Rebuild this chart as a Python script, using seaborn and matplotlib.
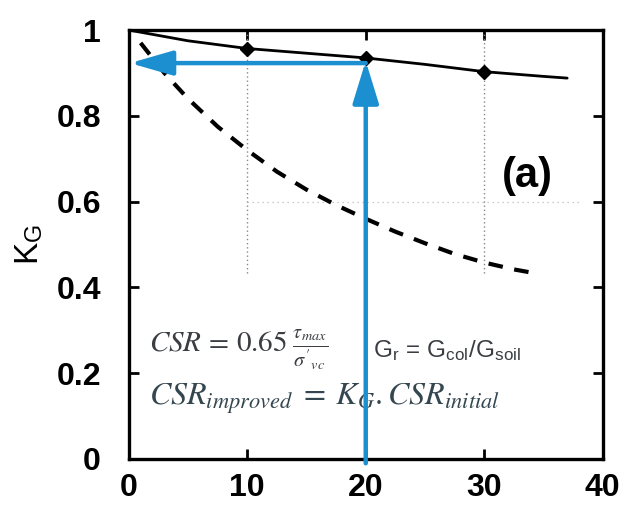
import pandas as pd
import matplotlib.pyplot as plt
import seaborn as sns

# solid curve (upper) with diamond markers
gr_solid = [0, 5, 10, 15, 20, 25, 30, 35, 37]
kg_solid = [1.0, 0.975, 0.957, 0.946, 0.935, 0.92, 0.903, 0.892, 0.888]
gr_marks = [10, 20, 30]
kg_marks = [0.957, 0.935, 0.903]

# dashed curve (lower)
gr_dash = [1, 3, 5, 7.5, 10, 12.5, 15, 17.5, 20, 22.5, 25, 27.5, 30, 32.5, 34.5]
kg_dash = [0.97, 0.9, 0.84, 0.775, 0.72, 0.67, 0.628, 0.592, 0.56, 0.53,
           0.503, 0.478, 0.458, 0.442, 0.432]

# reading arrows
gr_read = 20
kg_read = 0.923

x_ticks = [0, 10, 20, 30, 40]
y_ticks = [0, 0.2, 0.4, 0.6, 0.8, 1]
y_tick_labels = ["0", "0.2", "0.4", "0.6", "0.8", "1"]

sns.set_style("ticks")
plt.rcParams["font.family"] = ["Liberation Sans", "DejaVu Sans"]
plt.rcParams["mathtext.fontset"] = "stix"

fig = plt.figure(figsize=(6.22, 5.07), dpi=100)
ax = fig.add_axes([0.207, 0.0947, 0.762, 0.846])

solid_df = pd.DataFrame({"Gr": gr_solid, "KG": kg_solid})
dash_df = pd.DataFrame({"Gr": gr_dash, "KG": kg_dash})

# dotted guide lines
for xv in [10, 30]:
    ax.plot([xv, xv], [1.0, 0.43], color="#888888", lw=1.0, ls=(0, (1, 2)), zorder=1)
ax.plot([10, 38], [0.6, 0.6], color="#bbbbbb", lw=0.9, ls=(0, (1, 3)), zorder=1)

sns.lineplot(data=solid_df, x="Gr", y="KG", ax=ax, color="black", lw=2.0, zorder=3)
ax.plot(gr_marks, kg_marks, ls="none", marker="D", ms=7, color="black", zorder=3)
sns.lineplot(data=dash_df, x="Gr", y="KG", ax=ax, color="black", lw=3.0, zorder=3)
ax.lines[-1].set_linestyle((0, (3.5, 2.8)))

blue = "#1b8fd0"
ax.annotate("", xy=(gr_read, kg_read + 0.005), xytext=(gr_read, -0.01),
            arrowprops=dict(arrowstyle="-|>,head_length=2.6,head_width=0.8",
                            color=blue, lw=3.2, shrinkA=0, shrinkB=0,
                            mutation_scale=10), zorder=4, annotation_clip=False)
ax.annotate("", xy=(0.1, kg_read), xytext=(gr_read, kg_read),
            arrowprops=dict(arrowstyle="-|>,head_length=2.6,head_width=0.75",
                            color=blue, lw=3.2, shrinkA=0, shrinkB=0,
                            mutation_scale=10), zorder=4)

ax.text(33.6, 0.66, "(a)", fontsize=30, fontweight="bold", color="black",
        ha="center", va="center")
ax.text(1.7, 0.255, r"$CSR\,=\,0.65\;\frac{\tau_{max}}{\sigma'_{vc}}$",
        fontsize=21, color="#3a3d42", ha="left", va="center")
ax.text(20.6, 0.253, r"G$_\mathregular{r}$ = G$_\mathregular{col}$/G$_\mathregular{soil}$",
        fontsize=17.5, color="#3a3d42", ha="left", va="center")
ax.text(1.7, 0.14, r"$CSR_{improved}\;=\;K_{G}.CSR_{initial}$",
        fontsize=23, color="#34464f", ha="left", va="center")

ax.set_xlim(0, 40)
ax.set_ylim(0, 1)
ax.set_xticks(x_ticks)
ax.set_yticks(y_ticks)
ax.set_yticklabels(y_tick_labels)
ax.set_xlabel("")
ax.set_ylabel(r"K$_\mathregular{G}$", fontsize=24, labelpad=8, color="black")

for lab in ax.get_xticklabels() + ax.get_yticklabels():
    lab.set_fontweight("bold")
ax.tick_params(axis="both", direction="in", length=7, width=2, labelsize=23,
               top=True, right=True, colors="black")
ax.tick_params(axis="x", pad=10)
ax.tick_params(axis="y", pad=20)
for sp in ax.spines.values():
    sp.set_linewidth(2.4)
    sp.set_color("black")

fig.savefig("out.png", dpi=100)
